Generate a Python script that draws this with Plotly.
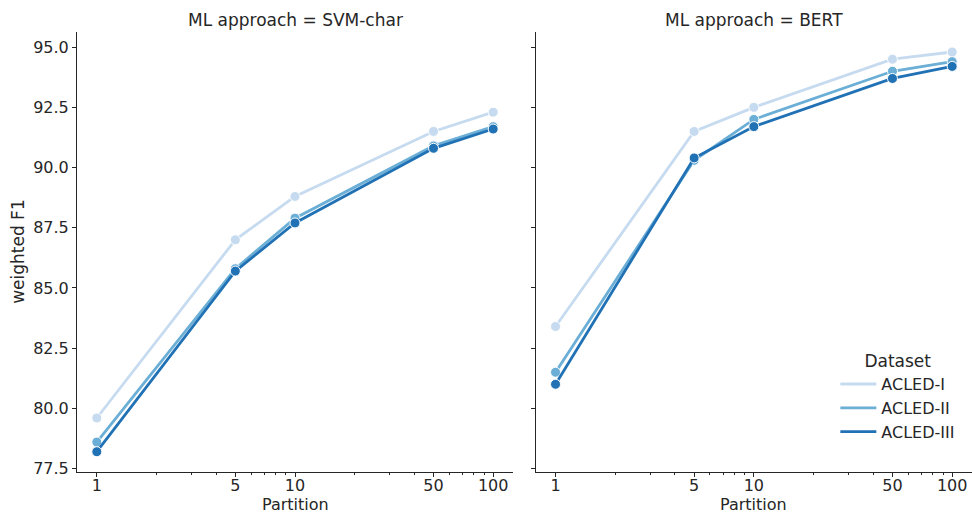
import plotly.graph_objects as go

partitions = [1, 5, 10, 50, 100]
datasets = ["ACLED-I", "ACLED-II", "ACLED-III"]
colors = ["#c6dbef", "#6baed6", "#2171b5"]

svm_acled1 = [79.6, 87.0, 88.8, 91.5, 92.3]
svm_acled2 = [78.6, 85.8, 87.9, 90.9, 91.7]
svm_acled3 = [78.2, 85.7, 87.7, 90.8, 91.6]

bert_acled1 = [83.4, 91.5, 92.5, 94.5, 94.8]
bert_acled2 = [81.5, 90.3, 92.0, 94.0, 94.4]
bert_acled3 = [81.0, 90.4, 91.7, 93.7, 94.2]

y_ticks = [77.5, 80.0, 82.5, 85.0, 87.5, 90.0, 92.5, 95.0]
x_ticks = [1, 5, 10, 50, 100]
x_minor = [2, 3, 4, 6, 7, 8, 9, 20, 30, 40, 60, 70, 80, 90]

panels = [
    ("x", "y", [svm_acled1, svm_acled2, svm_acled3]),
    ("x2", "y2", [bert_acled1, bert_acled2, bert_acled3]),
]

fig = go.Figure()
for xa, ya, series in panels:
    for name, col, vals in zip(datasets, colors, series):
        fig.add_trace(go.Scatter(
            x=partitions, y=vals, xaxis=xa, yaxis=ya, mode="lines+markers",
            name=name, showlegend=False,
            line=dict(color=col, width=2.8),
            marker=dict(color=col, size=10, line=dict(color="white", width=1)),
        ))
# legend-only traces (line only, like seaborn)
for name, col in zip(datasets, colors):
    fig.add_trace(go.Scatter(x=[None], y=[None], xaxis="x2", yaxis="y2", mode="lines",
                             name=name, line=dict(color=col, width=2.8)))

font = dict(family="DejaVu Sans", size=16, color="#262626")
font_lbl = dict(family="DejaVu Sans", size=17, color="#262626")
axis_common = dict(showline=True, linecolor="#262626", linewidth=1, showgrid=False,
                   zeroline=False, ticks="outside", tickcolor="#262626", ticklen=4,
                   tickfont=font, automargin=False)

W, H = 972, 515
ytop, ybot = 32, 471.7
ydom = [(H - ybot) / H, (H - ytop) / H]
xdom1 = [77 / W, 513 / W]
xdom2 = [535.7 / W, 1.0]

xaxis_common = dict(axis_common, type="log", range=[-0.1, 2.1], tickvals=x_ticks,
                    ticktext=[str(v) for v in x_ticks], ticklabelstandoff=-5,
                    minor=dict(tickvals=x_minor, ticks="outside", ticklen=2.5,
                               tickcolor="#262626", showgrid=False))

def ann(text, x, y, angle=0, f=font_lbl, yanchor="middle"):
    return dict(text=text, x=x, y=y, textangle=angle, xref="paper", yref="paper",
                showarrow=False, font=f, xanchor="center", yanchor=yanchor, borderpad=0)

fig.update_layout(
    width=W, height=H, margin=dict(l=0, r=0, t=0, b=0),
    plot_bgcolor="white", paper_bgcolor="white", font=font,
    xaxis=dict(xaxis_common, domain=xdom1, anchor="y"),
    xaxis2=dict(xaxis_common, domain=xdom2, anchor="y2"),
    yaxis=dict(axis_common, domain=ydom, range=[77.37, 95.63], tickvals=y_ticks,
               ticktext=[f"{v:.1f}" for v in y_ticks], anchor="x"),
    yaxis2=dict(axis_common, domain=ydom, range=[77.37, 95.63], tickvals=y_ticks,
                showticklabels=False, anchor="x2", matches="y"),
    legend=dict(x=0.988, y=(H - 345) / H, xanchor="right", yanchor="top",
                bgcolor="rgba(0,0,0,0)", font=font,
                title=dict(text="Dataset", side="top center", font=font_lbl),
                tracegroupgap=0, itemwidth=36),
    annotations=[
        ann("ML approach = SVM-char", (xdom1[0] + xdom1[1]) / 2, (H - 20) / H),
        ann("ML approach = BERT", (xdom2[0] + xdom2[1]) / 2, (H - 20) / H),
        ann("Partition", (xdom1[0] + xdom1[1]) / 2, (H - 504.5) / H, f=font),
        ann("Partition", (xdom2[0] + xdom2[1]) / 2, (H - 504.5) / H, f=font),
        ann("weighted F1", 18 / W, (ydom[0] + ydom[1]) / 2, angle=-90),
    ],
)

fig.write_html("out.html")
